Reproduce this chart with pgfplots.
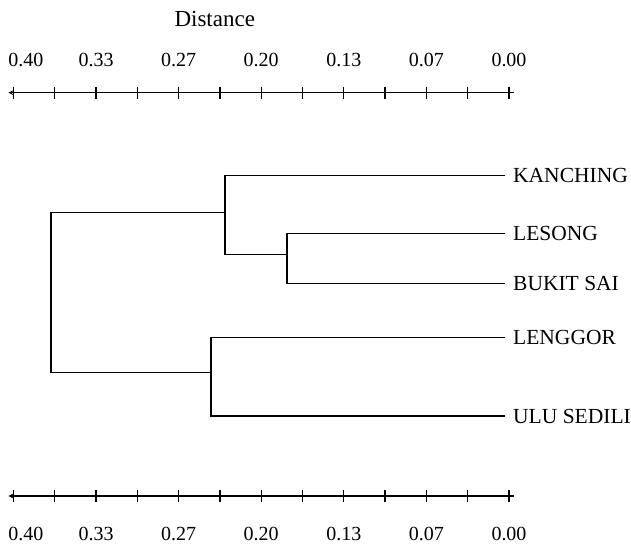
\documentclass[border=0pt]{standalone}
\usepackage{pgfplots}
\pgfplotsset{compat=1.18}
\usepackage{fontspec}
\setmainfont{Liberation Serif}

\pgfplotsset{
  ruler/.style={
    x=1239bp, y=1bp, x dir=reverse, y dir=reverse,
    xmin=-0.004, xmax=0.404, ymin=92.7, ymax=496,
    axis y line=none,
    xtick={0,0.03333,0.06667,0.1,0.13333,0.16667,0.2,0.23333,0.26667,0.3,0.33333,0.36667,0.4},
    xticklabels={0.00,,0.07,,0.13,,0.20,,0.27,,0.33,,\rlap{\hspace{-5bp}0.40}},
    tick align=center,
    major tick length=12bp,
    every major tick/.append style={black, line width=1.2bp},
    x axis line style={-, black, line width=1.2bp},
    tick label style={font=\fontsize{20bp}{24bp}\selectfont, inner sep=0pt},
    clip=false,
    at={(0,0)}, anchor=south west,
  }
}

\begin{document}
\begin{tikzpicture}
\begin{axis}[ruler, axis x line=bottom, xticklabel shift=25.5bp]
\addplot[black, line width=1.2bp] coordinates {(0.003,175.7) (0.2292,175.7) (0.2292,254.7) (0.1792,254.7)};
\addplot[black, line width=1.2bp] coordinates {(0.003,233.3) (0.1792,233.3) (0.1792,283.3) (0.003,283.3)};
\addplot[black, line width=1.2bp] coordinates {(0.003,337.3) (0.2405,337.3) (0.2405,416) (0.003,416)};
\addplot[black, line width=1.2bp] coordinates {(0.2292,212.7) (0.3697,212.7) (0.3697,372.3) (0.2405,372.3)};
\begin{scope}[every node/.style={anchor=west, inner sep=0pt, xshift=4bp, font=\fontsize{21.5bp}{25bp}\selectfont}]
\node at (axis cs:0,175.7) {KANCHING};
\node at (axis cs:0,233.3) {LESONG};
\node at (axis cs:0,283.3) {BUKIT SAI};
\node at (axis cs:0,337.3) {LENGGOR};
\node at (axis cs:0,416) {ULU SEDILI};
\end{scope}
\coordinate (bbA) at (axis cs:0.41082,0);
\coordinate (bbB) at (axis cs:-0.09847,544);
\end{axis}
\begin{axis}[ruler, axis x line=top, xticklabel shift=20bp]
\node[font=\fontsize{23bp}{27bp}\selectfont, inner sep=0pt] at (axis cs:0.2375,19) {Distance};
\end{axis}
\pgfresetboundingbox
\path (bbA) rectangle (bbB);
\end{tikzpicture}
\end{document}
